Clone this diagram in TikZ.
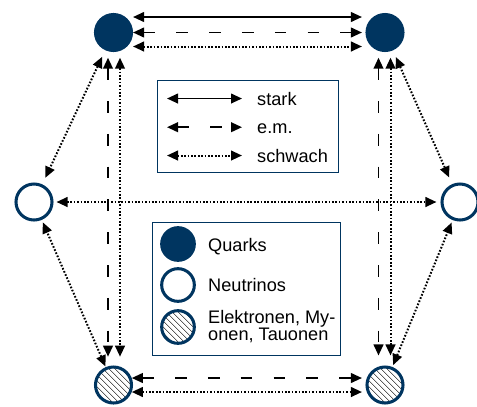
\documentclass[tikz,border=0pt]{standalone}
\usepackage{fontspec}
\setmainfont{Liberation Sans}
\usepackage{tikz}
\usetikzlibrary{arrows.meta,patterns.meta,calc}
\definecolor{particleblue}{RGB}{0,53,96}

\tikzset{
  particle/.style={circle,draw=particleblue,line width=2.6pt,minimum size=1.08cm,inner sep=0pt},
  quark/.style={particle,fill=particleblue},
  neutrino/.style={particle,fill=white},
  lepton/.style={particle,pattern={Lines[angle=-45,distance=4pt,line width=0.5pt]}},
  legendsize/.style={minimum size=0.98cm},
  interaction/.style={{Triangle[length=0.33cm,width=0.29cm]}-{Triangle[length=0.33cm,width=0.29cm]},line width=1.6pt},
  stark/.style={interaction},
  elmag/.style={interaction,dash pattern=on 10pt off 18pt},
  schwach/.style={interaction,line width=1.7pt,dash pattern=on 1.4pt off 1.5pt},
  legendbox/.style={draw=particleblue,line width=0.8pt},
  legendtext/.style={font=\fontsize{15.5}{14.5}\selectfont,inner sep=0pt,anchor=base west,align=left}
}

\begin{document}
\begin{tikzpicture}[x=0.03cm,y=-0.03cm]
    \useasboundingbox (0,0) rectangle (477,406);

    % Teilchen
    \node[quark] (qL) at (113.5,32.5) {};
    \node[quark] (qR) at (385,32.5) {};
    \node[neutrino] (nL) at (34,202) {};
    \node[neutrino] (nR) at (460,202) {};
    \node[lepton] (lL) at (113.5,385) {};
    \node[lepton] (lR) at (385,385) {};

    % Quark - Quark
    \draw[stark,shorten >=3pt] ($(qL.east)+(0,-15.5)$) -- ($(qR.west)+(0,-15.5)$);
    \draw[elmag,shorten >=3pt] (qL.east) -- (qR.west);
    \draw[schwach,shorten >=3pt] ($(qL.east)+(0,14)$) -- ($(qR.west)+(0,14)$);

    % Lepton - Lepton
    \draw[elmag,shorten >=3pt] ($(lL.east)+(0,-7)$) -- ($(lR.west)+(0,-7)$);
    \draw[schwach,shorten >=3pt] ($(lL.east)+(0,7)$) -- ($(lR.west)+(0,7)$);

    % Quark - Lepton
    \draw[elmag,shorten <=0.17cm,shorten >=0.3cm] ($(qL.south)+(-5.5,0)$) -- ($(lL.north)+(-5.5,0)$);
    \draw[schwach,shorten <=0.17cm,shorten >=0.3cm] ($(qL.south)+(6.5,0)$) -- ($(lL.north)+(6.5,0)$);
    \draw[elmag,shorten <=0.17cm,shorten >=0.3cm] ($(qR.south)+(-6.5,0)$) -- ($(lR.north)+(-6.5,0)$);
    \draw[schwach,shorten <=0.17cm,shorten >=0.3cm] ($(qR.south)+(5.5,0)$) -- ($(lR.north)+(5.5,0)$);

    % Neutrinos
    \draw[schwach,shorten <=0.22cm,shorten >=0.22cm] (qL) -- (nL);
    \draw[schwach,shorten <=0.22cm,shorten >=0.22cm] (qR) -- (nR);
    \draw[schwach,shorten <=0.06cm,shorten >=0.08cm] (lL) -- (nL);
    \draw[schwach,shorten <=0.06cm,shorten >=0.08cm] (lR) -- (nR);
    \draw[schwach,shorten <=0.09cm,shorten >=0.12cm] (nL) -- (nR);

    % Legende Wechselwirkungen
    \draw[legendbox] (157,80) rectangle (338,172);
    \node[legendtext] (tStark) at (257,105) {stark};
    \node[legendtext] (tElmag) at (257,133) {e.m.};
    \node[legendtext] (tSchwach) at (257,162) {schwach};
    \draw[stark] ($(tStark.west)+(-90,0)$) -- ($(tStark.west)+(-15,0)$);
    \draw[elmag] ($(tElmag.west)+(-90,-1)$) -- ($(tElmag.west)+(-15,-1)$);
    \draw[schwach] ($(tSchwach.west)+(-90,0)$) -- ($(tSchwach.west)+(-15,0)$);

    % Legende Teilchen
    \draw[legendbox] (152,222) rectangle (340,355);
    \node[quark,legendsize] (kQuark) at (178,244) {};
    \node[neutrino,legendsize] (kNeutrino) at (178,285) {};
    \node[lepton,legendsize] (kLepton) at (178,327) {};
    \node[legendtext] (tQuark) at (208,251) {Quarks};
    \node[legendtext] (tNeutrino) at (208,291) {Neutrinos};
    \node[legendtext,anchor=west] (tLepton) at (208,327) {Elektronen, My-\\onen, Tauonen};
\end{tikzpicture}
\end{document}
